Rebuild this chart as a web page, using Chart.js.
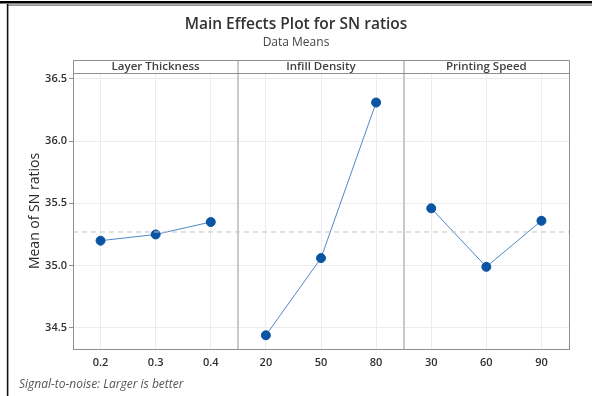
<!DOCTYPE html>
<html>
<head>
<meta charset="utf-8">
<script src="https://cdn.jsdelivr.net/npm/chart.js@4.4.1/dist/chart.umd.min.js"></script>
<style>
  html, body { margin: 0; padding: 0; background: #ffffff; }
  #wrap { width: 592px; height: 396px; position: relative; }
</style>
</head>
<body>
<div id="wrap"><canvas id="c" width="592" height="396"></canvas></div>
<script>
// Factors and their levels
const factors = ['Layer Thickness', 'Infill Density', 'Printing Speed'];
const layerLevels = ['0.2', '0.3', '0.4'];
const infillLevels = ['20', '50', '80'];
const speedLevels = ['30', '60', '90'];

// Mean of SN ratios for each level
const layerMeans = [35.20, 35.25, 35.35];
const infillMeans = [34.44, 35.06, 36.31];
const speedMeans = [35.46, 34.99, 35.36];

// Overall mean (dashed reference line)
const grandMean = 35.27;

// Value-axis ticks
const yTicks = [34.5, 35.0, 35.5, 36.0, 36.5];

const levelSets = [layerLevels, infillLevels, speedLevels];
const meanSets = [layerMeans, infillMeans, speedMeans];
const tickLabels = levelSets.flat();

const FONT = "'Open Sans', 'Noto Sans', 'DejaVu Sans', sans-serif";
const POINT_BLUE = '#0a55a3';
const LINE_BLUE = '#4f89c7';

// Each factor occupies 3 units of the shared x scale; levels sit at n + 0.5
const panelSize = 3;
function levelPos(panel, i) { return panel * panelSize + i + 0.5; }

const datasets = meanSets.map((vals, p) => ({
  label: factors[p],
  data: vals.map((v, i) => ({ x: levelPos(p, i), y: v })),
  borderColor: LINE_BLUE,
  borderWidth: 1,
  pointRadius: 4.5,
  pointHoverRadius: 4.5,
  pointBackgroundColor: POINT_BLUE,
  pointBorderColor: POINT_BLUE,
  pointBorderWidth: 1,
  tension: 0,
  fill: false
}));

datasets.unshift({
  label: 'Mean',
  data: [{ x: 0, y: grandMean }, { x: factors.length * panelSize, y: grandMean }],
  borderColor: '#c2c2c2',
  borderWidth: 1,
  borderDash: [5, 4],
  pointRadius: 0,
  fill: false
});

const panelFrame = {
  id: 'panelFrame',
  beforeDraw(chart) {
    const ctx = chart.ctx;
    ctx.save();
    ctx.fillStyle = '#ffffff';
    ctx.fillRect(0, 0, chart.width, chart.height);
    // page frame
    ctx.fillStyle = '#000000';
    ctx.fillRect(0, 1, chart.width, 2.5);
    ctx.fillStyle = '#8a8a8a';
    ctx.fillRect(7, 4.3, chart.width - 7, 1.6);
    ctx.fillStyle = '#111111';
    ctx.fillRect(6.8, 4, 1.6, chart.height - 4);
    ctx.restore();
  },
  afterDraw(chart) {
    const ctx = chart.ctx;
    const a = chart.chartArea;
    const xs = chart.scales.x;
    const stripH = 13;
    const stripTop = a.top - stripH;
    ctx.save();

    // panel dividers through strip and plot
    ctx.strokeStyle = '#c9c9c9';
    ctx.lineWidth = 2;
    for (let p = 1; p < factors.length; p++) {
      const px = Math.round(xs.getPixelForValue(p * panelSize));
      ctx.beginPath();
      ctx.moveTo(px, stripTop);
      ctx.lineTo(px, a.bottom);
      ctx.stroke();
    }

    // outer border of strip + plot (left & bottom drawn by axes)
    ctx.strokeStyle = '#8f8f8f';
    ctx.lineWidth = 1;
    ctx.beginPath();
    ctx.moveTo(a.left, stripTop + 0.5);
    ctx.lineTo(a.right + 0.5, stripTop + 0.5);
    ctx.lineTo(a.right + 0.5, a.bottom);
    ctx.moveTo(a.left, a.top + 0.5);
    ctx.lineTo(a.right, a.top + 0.5);
    ctx.moveTo(a.left + 0.5, stripTop);
    ctx.lineTo(a.left + 0.5, a.top);
    ctx.stroke();

    // strip labels
    ctx.fillStyle = '#3f3f3f';
    ctx.font = '600 11.5px ' + FONT;
    ctx.textAlign = 'center';
    ctx.textBaseline = 'middle';
    factors.forEach((f, p) => {
      const x0 = xs.getPixelForValue(p * panelSize);
      const x1 = xs.getPixelForValue((p + 1) * panelSize);
      ctx.fillText(f, (x0 + x1) / 2, stripTop + stripH / 2 + 0.5);
    });

    // titles
    ctx.fillStyle = '#333333';
    ctx.font = '600 15.5px ' + FONT;
    ctx.fillText('Main Effects Plot for SN ratios', 296, 25);
    ctx.fillStyle = '#444444';
    ctx.font = '12px ' + FONT;
    ctx.fillText('Data Means', 296, 43);

    // footnote
    ctx.fillStyle = '#555555';
    ctx.font = 'italic 12px ' + FONT;
    ctx.textAlign = 'left';
    ctx.fillText('Signal-to-noise: Larger is better', 19, 385);
    ctx.restore();
  }
};

new Chart(document.getElementById('c'), {
  type: 'line',
  data: { datasets },
  plugins: [panelFrame],
  options: {
    responsive: false,
    animation: false,
    devicePixelRatio: 1,
    layout: { padding: { top: 73, right: 23, left: 0, bottom: 0 } },
    plugins: {
      legend: { display: false },
      tooltip: { enabled: false },
      title: { display: false }
    },
    scales: {
      x: {
        type: 'linear',
        min: 0,
        max: factors.length * panelSize,
        afterBuildTicks(scale) {
          scale.ticks = tickLabels.map((_, k) => ({ value: levelPos(Math.floor(k / 3), k % 3) }));
        },
        afterFit(scale) { scale.height = 47; },
        ticks: {
          autoSkip: false,
          maxRotation: 0,
          padding: 7,
          color: '#2f2f2f',
          font: { family: FONT, size: 11, weight: '600' },
          callback(value, index) { return tickLabels[index]; }
        },
        grid: { color: '#ececec', lineWidth: 1, drawTicks: false },
        border: { color: '#8f8f8f', width: 1 }
      },
      y: {
        min: 34.33,
        max: 36.547,
        afterBuildTicks(scale) {
          scale.ticks = yTicks.map(v => ({ value: v }));
        },
        afterFit(scale) { scale.width = 73; },
        ticks: {
          padding: 2,
          color: '#2f2f2f',
          font: { family: FONT, size: 11, weight: '600' },
          callback(value) { return Number(value).toFixed(1); }
        },
        grid: { color: '#ececec', lineWidth: 1, tickLength: 4, tickColor: '#8f8f8f' },
        border: { color: '#8f8f8f', width: 1 },
        title: {
          display: true,
          text: 'Mean of SN ratios',
          color: '#2a2a2a',
          font: { family: FONT, size: 14, weight: '400' },
          padding: { top: 27, bottom: 0 }
        }
      }
    }
  }
});
</script>
</body>
</html>
